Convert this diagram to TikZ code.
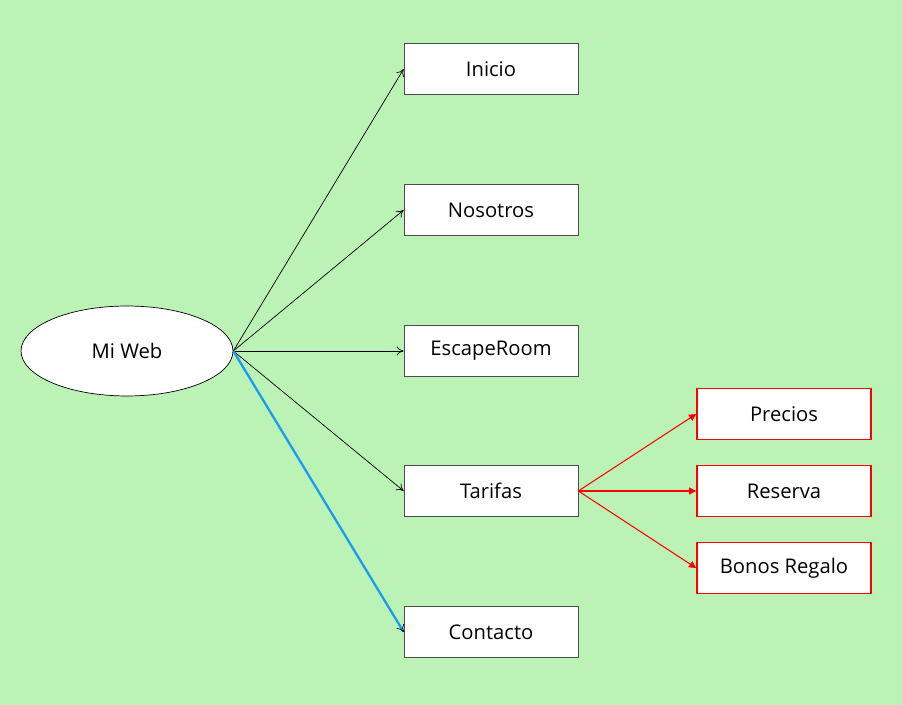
\documentclass[tikz,border=0pt]{standalone}
\usepackage{fontspec}
\setmainfont{Open Sans}
\usetikzlibrary{shapes.geometric, arrows.meta}
\definecolor{bggreen}{HTML}{BBF2B6}
\definecolor{linkblue}{HTML}{1A9BF0}
\tikzstyle{root} = [ellipse, 
minimum width=4.24cm, 
minimum height=1.8cm, 
draw=black, thin, fill=white]
\tikzstyle{page} = [rectangle, 
minimum width=3.48cm, 
minimum height=1.02cm, 
text centered, 
draw=black!70, thin, 
fill=white]
\tikzstyle{subpage} = [page, 
draw=red, line width=1pt]
\tikzstyle{arrow} = [thin,-{To[length=4pt,width=5pt]}]
\tikzstyle{subarrow} = [red, line width=0.6pt,-{Triangle[length=4pt,width=4pt]}]

\begin{document}
\begin{tikzpicture}[x=0.02cm, y=-0.02cm, font=\fontsize{11.5}{13}\selectfont]
	\fill [bggreen] (0,0) rectangle (902,705);
	\useasboundingbox (0,0) rectangle (902,705);
	\node (mi_web) [root] at (127,351) {Mi Web};
	\node (inicio) [page] at (491,69) {Inicio};
	\node (nosotros) [page] at (491,210) {Nosotros};
	\node (escape_room) [page] at (491,351) {EscapeRoom};
	\node (tarifas) [page] at (491,491) {Tarifas};
	\node (contacto) [page] at (491,632) {Contacto};
	\node (precios) [subpage] at (784,414) {Precios};
	\node (reserva) [subpage] at (784,491) {Reserva};
	\node (bonos) [subpage] at (784,568) {Bonos Regalo};

	\draw [arrow] (mi_web.east) -- (inicio.west);
	\draw [arrow] (mi_web.east) -- (nosotros.west);
	\draw [arrow] (mi_web.east) -- (escape_room.west);
	\draw [arrow] (mi_web.east) -- (tarifas.west);
	\draw [linkblue, line width=1.3pt, -{To[length=4pt,width=5pt,color=black,line width=0.4pt]}] (mi_web.east) -- (contacto.west);
	\draw [subarrow] (tarifas.east) -- (precios.west);
	\draw [subarrow] (tarifas.east) -- (reserva.west);
	\draw [subarrow] (tarifas.east) -- (bonos.west);
\end{tikzpicture}
\end{document}
